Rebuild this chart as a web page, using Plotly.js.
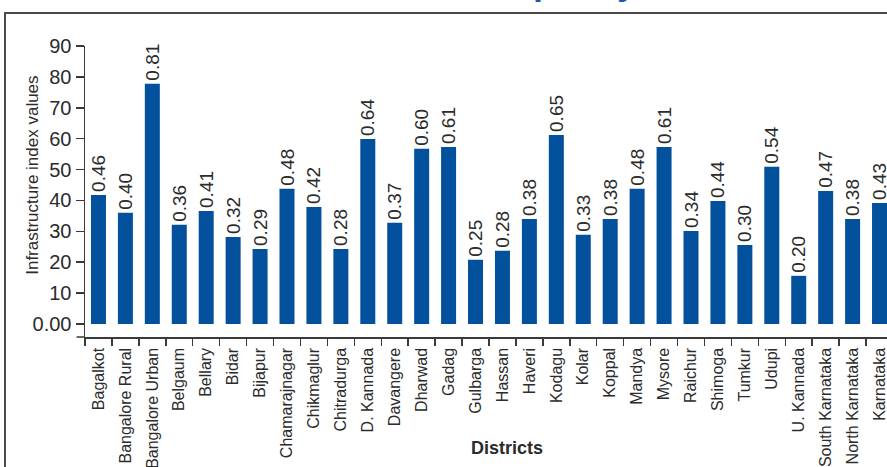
<!DOCTYPE html>
<html>
<head>
<meta charset="utf-8">
<script src="https://cdn.plot.ly/plotly-3.0.1.min.js"></script>
<style>
  html, body { margin: 0; padding: 0; width: 887px; height: 467px; overflow: hidden; background: #fff; }
  #frame { position: absolute; left: 4px; top: 12px; width: 1000px; height: 1000px; border: 2px solid #4a4a4a; box-sizing: border-box; }
  #chart { position: absolute; left: 0; top: 0; width: 895px; height: 467px; }
</style>
</head>
<body>
<div id="frame"></div>
<div id="chart"></div>
<script>
const districts = ["Bagalkot", "Bangalore Rural", "Bangalore Urban", "Belgaum", "Bellary", "Bidar", "Bijapur",
  "Chamarajnagar", "Chikmaglur", "Chitradurga", "D. Kannada", "Davangere", "Dharwad", "Gadag", "Gulbarga",
  "Hassan", "Haveri", "Kodagu", "Kolar", "Koppal", "Mandya", "Mysore", "Raichur", "Shimoga", "Tumkur",
  "Udupi", "U. Kannada", "South Karnataka", "North Karnataka", "Karnataka"];
const barValues = [41.8, 36.0, 77.8, 32.1, 36.6, 28.2, 24.3, 43.8, 37.9, 24.3, 59.9, 32.8, 56.7, 57.3, 20.8,
  23.7, 34.0, 61.2, 28.9, 34.0, 43.8, 57.3, 30.1, 39.8, 25.6, 50.9, 15.6, 43.1, 34.0, 39.2];
const indexLabels = [0.46, 0.40, 0.81, 0.36, 0.41, 0.32, 0.29, 0.48, 0.42, 0.28, 0.64, 0.37, 0.60, 0.61, 0.25,
  0.28, 0.38, 0.65, 0.33, 0.38, 0.48, 0.61, 0.34, 0.44, 0.30, 0.54, 0.20, 0.47, 0.38, 0.43];
const yTickVals = [0, 10, 20, 30, 40, 50, 60, 70, 80, 90];
const yTickText = ["0.00", "10", "20", "30", "40", "50", "60", "70", "80", "90"];

const FONT = '"Liberation Sans", Arial, sans-serif';

const trace = {
  type: 'bar',
  x: districts,
  y: barValues,
  text: indexLabels.map(v => v.toFixed(2)),
  textposition: 'outside',
  textangle: -90,
  constraintext: 'none',
  cliponaxis: false,
  textfont: { family: FONT, size: 19, color: '#2b2b2b' },
  marker: { color: '#03509d' },
  hoverinfo: 'none'
};

const layout = {
  width: 895,
  height: 467,
  margin: { l: 85, r: 2, t: 46, b: 130 },
  paper_bgcolor: 'rgba(0,0,0,0)',
  plot_bgcolor: 'rgba(0,0,0,0)',
  bargap: 0.443,
  showlegend: false,
  font: { family: FONT, color: '#2b2b2b' },
  xaxis: {
    type: 'category',
    showline: true, linecolor: '#3a3a3a', linewidth: 1.5,
    ticks: 'outside', ticklen: 7, tickwidth: 1.5, tickcolor: '#3a3a3a',
    tickson: 'boundaries',
    tickangle: -90,
    ticklabelstandoff: 3,
    tickfont: { family: FONT, size: 16, color: '#2b2b2b' },
    showgrid: false, zeroline: false,
    automargin: false
  },
  yaxis: {
    range: [-4.2, 90],
    tickvals: yTickVals,
    ticktext: yTickText,
    showline: true, linecolor: '#3a3a3a', linewidth: 1.5,
    ticks: 'outside', ticklen: 8, tickwidth: 1.5, tickcolor: '#3a3a3a',
    tickfont: { family: FONT, size: 20, color: '#2b2b2b' },
    showgrid: false, zeroline: false,
    automargin: false
  },
  shapes: [
    { type: 'line', xref: 'paper', yref: 'paper', x0: -0.0105, x1: 0, y0: 0, y1: 0,
      line: { color: '#3a3a3a', width: 1.5 } }
  ],
  annotations: [
    { text: 'Infrastructure index values', xref: 'paper', yref: 'paper', x: -0.0645, y: 0.557,
      textangle: -90, showarrow: false, xanchor: 'center', yanchor: 'middle',
      font: { family: FONT, size: 17, color: '#2b2b2b' } },
    { text: '<b>Districts</b>', xref: 'paper', yref: 'paper', x: 0.522, y: -0.38,
      showarrow: false, xanchor: 'center', yanchor: 'middle',
      font: { family: FONT, size: 18, color: '#2b2b2b' } },
    { text: '<b>Capacity</b>', xref: 'paper', yref: 'paper', x: 0.590, y: 1.145,
      showarrow: false, xanchor: 'center', yanchor: 'bottom',
      font: { family: FONT, size: 36, color: '#1a5aa8' } }
  ]
};

Plotly.newPlot('chart', [trace], layout, { displayModeBar: false, staticPlot: true });
</script>
</body>
</html>
